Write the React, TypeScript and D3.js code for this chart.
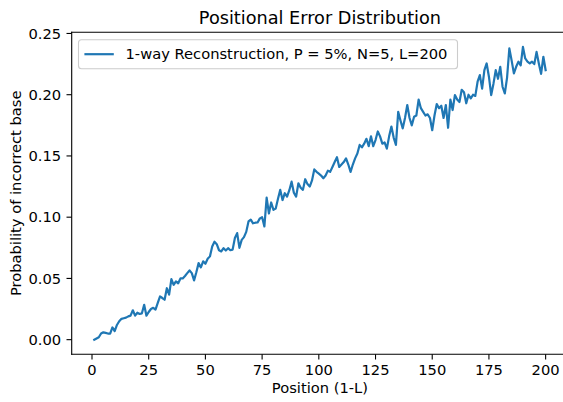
import React from "react";
import * as d3 from "d3";

const positions: number[] = Array.from({ length: 200 }, (_, i) => i + 1);

const errorRates: number[] = [
  0.000, 0.001, 0.002, 0.005, 0.006, 0.0055, 0.005, 0.005, 0.010, 0.007,
  0.012, 0.015, 0.017, 0.0175, 0.018, 0.019, 0.0196, 0.024, 0.0196, 0.022,
  0.021, 0.0215, 0.0285, 0.0196, 0.0226, 0.025, 0.026, 0.0245, 0.030, 0.0353,
  0.034, 0.0326, 0.042, 0.0367, 0.0495, 0.0448, 0.0476, 0.046, 0.050, 0.050,
  0.052, 0.0543, 0.0565, 0.0543, 0.0484, 0.055, 0.0625, 0.059, 0.064, 0.062,
  0.066, 0.068, 0.076, 0.080, 0.078, 0.073, 0.072, 0.0747, 0.0728, 0.0747,
  0.073, 0.0735, 0.083, 0.087, 0.075, 0.0815, 0.0837, 0.088, 0.0965, 0.098,
  0.095, 0.0955, 0.0957, 0.099, 0.100, 0.0924, 0.116, 0.103, 0.112, 0.106,
  0.107, 0.115, 0.1223, 0.114, 0.1196, 0.1168, 0.122, 0.129, 0.120, 0.1168,
  0.1277, 0.124, 0.1223, 0.131, 0.127, 0.125, 0.130, 0.139, 0.137, 0.1355,
  0.134, 0.1318, 0.134, 0.138, 0.137, 0.141, 0.145, 0.149, 0.141, 0.143,
  0.145, 0.148, 0.143, 0.137, 0.143, 0.148, 0.152, 0.159, 0.157, 0.160,
  0.164, 0.158, 0.166, 0.158, 0.163, 0.170, 0.166, 0.160, 0.161, 0.156,
  0.166, 0.174, 0.165, 0.159, 0.186, 0.179, 0.1725, 0.181, 0.1916, 0.181,
  0.175, 0.182, 0.183, 0.196, 0.189, 0.186, 0.183, 0.184, 0.181, 0.171,
  0.183, 0.1924, 0.189, 0.191, 0.181, 0.1916, 0.173, 0.196, 0.1875, 0.1997,
  0.196, 0.194, 0.204, 0.202, 0.193, 0.200, 0.197, 0.200, 0.199, 0.2106,
  0.216, 0.205, 0.220, 0.2255, 0.2147, 0.1997, 0.209, 0.220, 0.213, 0.2228,
  0.2065, 0.201, 0.214, 0.2378, 0.228, 0.2174, 0.2228, 0.227, 0.224, 0.239,
  0.2296, 0.227, 0.2255, 0.227, 0.225, 0.235, 0.2255, 0.217, 0.231, 0.220,
];

const xTicks: number[] = [0, 25, 50, 75, 100, 125, 150, 175, 200];
const yTicks: number[] = [0, 0.05, 0.1, 0.15, 0.2, 0.25];

const TITLE = "Positional Error Distribution";
const X_LABEL = "Position (1-L)";
const Y_LABEL = "Probability of incorrect base";
const LEGEND_LABEL = "1-way Reconstruction, P = 5%, N=5, L=200";

export default function App() {
  const W = 563;
  const H = 402;
  const left = 71.7;
  const right = 568.2;
  const top = 32.3;
  const bottom = 354.3;
  const font = "DejaVu Sans, sans-serif";
  const color = "#1f77b4";

  const [xmin, xmax] = d3.extent(positions) as [number, number];
  const xpad = (xmax - xmin) * 0.05;
  const [ymin, ymax] = d3.extent(errorRates) as [number, number];
  const ypad = (ymax - ymin) * 0.05;

  const x = d3.scaleLinear().domain([xmin - xpad, xmax + xpad]).range([left, right]);
  const y = d3.scaleLinear().domain([ymin - ypad, ymax + ypad]).range([bottom, top]);

  const line = d3
    .line<number>()
    .x((_, i) => x(positions[i]))
    .y((d) => y(d));

  const tickLen = 5.2;
  const sw = 1.1;

  return (
    <svg
      width={W}
      height={H}
      style={{ position: "absolute", left: 0, top: 0, background: "#fff" }}
      fontFamily={font}
    >
      <rect x={0} y={0} width={W} height={H} fill="#fff" />
      <text x={(left + right) / 2} y={23.5} fontSize={17.7} textAnchor="middle" fill="#000">
        {TITLE}
      </text>

      <path d={line(errorRates) || ""} fill="none" stroke={color} strokeWidth={2.2} strokeLinejoin="round" strokeLinecap="square" />

      {/* spines */}
      <line x1={left} x2={left} y1={top} y2={bottom} stroke="#000" strokeWidth={sw} strokeLinecap="square" />
      <line x1={left} x2={right} y1={bottom} y2={bottom} stroke="#000" strokeWidth={sw} strokeLinecap="square" />
      <line x1={left} x2={right} y1={top} y2={top} stroke="#000" strokeWidth={sw} strokeLinecap="square" />
      <line x1={right} x2={right} y1={top} y2={bottom} stroke="#000" strokeWidth={sw} />

      {xTicks.map((t) => (
        <g key={"x" + t}>
          <line x1={x(t)} x2={x(t)} y1={bottom} y2={bottom + tickLen} stroke="#000" strokeWidth={sw} />
          <text x={x(t)} y={bottom + 20.5} fontSize={14.7} textAnchor="middle" fill="#000">
            {t}
          </text>
        </g>
      ))}
      {yTicks.map((t) => (
        <g key={"y" + t}>
          <line x1={left - tickLen} x2={left} y1={y(t)} y2={y(t)} stroke="#000" strokeWidth={sw} />
          <text x={left - 10.6} y={y(t) + 5.3} fontSize={14.7} textAnchor="end" fill="#000">
            {t.toFixed(2)}
          </text>
        </g>
      ))}

      <text x={(left + right) / 2} y={393} fontSize={14.7} textAnchor="middle" fill="#000">
        {X_LABEL}
      </text>
      <text
        transform={`translate(21,${(top + bottom) / 2}) rotate(-90)`}
        fontSize={14.7}
        textAnchor="middle"
        fill="#000"
      >
        {Y_LABEL}
      </text>

      {/* legend */}
      <g>
        <rect x={78.5} y={39.7} width={379} height={29} rx={3} fill="#fff" fillOpacity={0.8} stroke="#cccccc" strokeWidth={1.1} />
        <line x1={84.4} x2={113.8} y1={54.2} y2={54.2} stroke={color} strokeWidth={2.2} />
        <text x={125.5} y={59.4} fontSize={14.7} fill="#000">
          {LEGEND_LABEL}
        </text>
      </g>
    </svg>
  );
}
